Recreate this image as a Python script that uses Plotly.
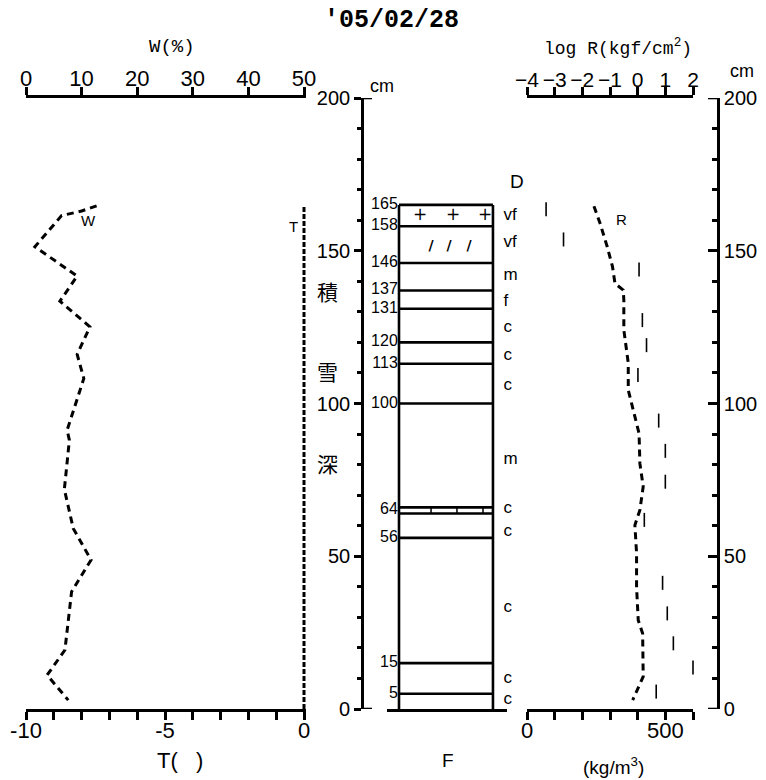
import plotly.graph_objects as go

W_PX, H_PX = 766, 780
def px(x): return x / W_PX
def py(y): return 1 - y / H_PX

NARROW = "Liberation Sans Narrow, Arial Narrow, Liberation Sans, sans-serif"
MONO = "Liberation Mono, DejaVu Sans Mono, monospace"
CJK = "Noto Sans CJK JP, Noto Sans CJK SC, sans-serif"

# ---------------- data ----------------
temp_depth = [0, 165]
temp_val = [0.0, 0.0]

w_depth = [164.7, 163.0, 161.5, 151.3, 141.7, 133.5, 125.1, 116.1, 108.2, 91.3, 88.0,
           71.9, 59.1, 48.8, 38.4, 19.3, 11.1, 2.9]
w_val = [12.7, 10.0, 6.4, 1.6, 9.2, 6.1, 11.5, 9.2, 10.4, 7.4, 7.8,
         6.9, 8.5, 11.7, 8.2, 7.0, 3.8, 7.6]

rho_depth = [164.6, 159.0, 151.3, 144.8, 139.3, 137.1, 133.9, 124.1, 113.2, 104.4, 93.5,
             90.2, 80.4, 72.8, 65.1, 60.2, 51.0, 40.0, 29.1, 24.7, 10.6, 2.9]
rho_val = [242, 264, 290, 309, 318, 348, 350, 350, 366, 366, 396,
           405, 408, 420, 408, 390, 396, 396, 402, 418, 420, 382]

r_depth = [163.6, 153.7, 143.9, 127.3, 119.1, 109.3, 94.4, 84.5, 74.4, 61.9, 41.3, 31.3, 21.5, 13.6, 5.7]
r_val = [-3.31, -2.68, 0.05, 0.17, 0.32, 0.01, 0.76, 1.0, 1.0, 0.24, 0.9, 1.07, 1.29, 2.0, 0.67]

layer_bounds = [165, 158, 146, 137, 131, 120, 113, 100, 66, 64, 56, 15, 5]
bound_labels = ["165", "158", "146", "137", "131", "120", "113", "100", "64", "56", "15", "5"]
bound_label_depth = [165, 158, 146, 137, 131, 120, 113, 100, 65, 56, 15, 5]

grain_depth = [161.4, 152.5, 141.7, 133.2, 124.7, 115.5, 105.7, 81.5, 65.5, 58, 33, 10, 3]
grain_text = ["vf", "vf", "m", "f", "c", "c", "c", "m", "c", "c", "c", "c", "c"]

snow_top = 165
col_left, col_right = 0.10, 0.883   # column edges in column-axis units
plus_x = [0.275, 0.55, 0.817]
plus_depth = 161.5
slash_x = [0.367, 0.517, 0.683]
slash_depth = 151.5
ice_tick_x = [0.367, 0.583, 0.80]

W_ticks = [0, 10, 20, 30, 40, 50]
T_ticks = [-10, -5, 0]
R_ticks = [-4, -3, -2, -1, 0, 1, 2]
rho_ticks = [0, 500]
depth_ticks = [0, 50, 100, 150, 200]

# small range pad so that the T=0 line is not clipped in half
T_PAD = 0.07
T_range = [-10, 0 + T_PAD]
W_range = [0, 50 + 5 * T_PAD]
PX_PER_T = (304 - 26) / 10.0

# ---------------- figure ----------------
fig = go.Figure()
LW = 2.6

fig.add_trace(go.Scatter(x=temp_val, y=temp_depth, mode="lines", xaxis="x", yaxis="y",
                         line=dict(color="black", width=3, dash="5px,2px")))
fig.add_trace(go.Scatter(x=w_val, y=w_depth, mode="lines", xaxis="x3", yaxis="y",
                         line=dict(color="black", width=3, dash="7px,5px")))
fig.add_trace(go.Scatter(x=rho_val, y=rho_depth, mode="lines", xaxis="x4", yaxis="y",
                         line=dict(color="black", width=3, dash="7px,5px")))
fig.add_trace(go.Scatter(x=r_val, y=r_depth, mode="markers", xaxis="x5", yaxis="y", cliponaxis=False,
                         marker=dict(symbol="line-ns", size=10, line=dict(color="black", width=1.6))))

cx, cy = [], []
for b in layer_bounds:
    cx += [col_left, col_right, None]
    cy += [b, b, None]
cx += [col_left, col_left, None, col_right, col_right]
cy += [0, snow_top, None, 0, snow_top]
fig.add_trace(go.Scatter(x=cx, y=cy, mode="lines", xaxis="x2", yaxis="y",
                         line=dict(color="black", width=LW), cliponaxis=False))
ix, iy = [], []
for xv in ice_tick_x:
    ix += [xv, xv, None]
    iy += [64, 66, None]
fig.add_trace(go.Scatter(x=ix, y=iy, mode="lines", xaxis="x2", yaxis="y",
                         line=dict(color="black", width=1.5), cliponaxis=False))
fig.add_trace(go.Scatter(x=[col_left - 0.01] * len(bound_labels), y=bound_label_depth, mode="text",
                         text=bound_labels, textposition="middle left", xaxis="x2", yaxis="y",
                         textfont=dict(family=NARROW, size=16, color="black"), cliponaxis=False))
fig.add_trace(go.Scatter(x=[0.97] * len(grain_text), y=grain_depth, mode="text",
                         text=grain_text, textposition="middle right", xaxis="x2", yaxis="y",
                         textfont=dict(family=NARROW, size=17, color="black"), cliponaxis=False))
fig.add_trace(go.Scatter(x=plus_x, y=[plus_depth] * 3, mode="text", text=["+"] * 3,
                         xaxis="x2", yaxis="y", textfont=dict(family="DejaVu Sans", size=17, color="black"),
                         cliponaxis=False))
fig.add_trace(go.Scatter(x=slash_x, y=[slash_depth] * 3, mode="text", text=["<b>/</b>"] * 3,
                         xaxis="x2", yaxis="y", textfont=dict(family="DejaVu Sans", size=14, color="black"),
                         cliponaxis=False))

tickfont_big = dict(family=NARROW, size=22, color="black")
tickfont_r = dict(family=NARROW, size=21, color="black")
tickfont_mid = dict(family=NARROW, size=20, color="black")

common_x = dict(showgrid=False, zeroline=False, showline=True, linecolor="black", linewidth=LW,
                ticks="outside", tickcolor="black", tickwidth=LW, ticklen=8, automargin=False,
                tickangle=0, ticklabelstandoff=-8)

ydom = [py(709), py(98)]

fig.update_layout(
    width=W_PX, height=H_PX, margin=dict(l=0, r=0, t=0, b=0, autoexpand=False),
    paper_bgcolor="white", plot_bgcolor="white", showlegend=False,
    xaxis=dict(domain=[px(26), px(304 + T_PAD * PX_PER_T)], range=T_range, anchor="y", side="bottom",
               tickvals=T_ticks, ticktext=[str(v) for v in T_ticks], tickfont=tickfont_big,
               minor=dict(dtick=1, ticklen=8, tickwidth=LW, tickcolor="black", ticks="outside"),
               **common_x),
    xaxis3=dict(range=W_range, overlaying="x", anchor="y", side="top",
                tickvals=W_ticks, tickfont=tickfont_big, **common_x),
    xaxis2=dict(domain=[px(387), px(507)], range=[0, 1], anchor="y", side="bottom",
                showgrid=False, zeroline=False, showline=True, linecolor="black", linewidth=LW,
                ticks="", showticklabels=False, automargin=False),
    xaxis4=dict(domain=[px(527), px(693)], range=[0, 600], anchor="y", side="bottom",
                tickvals=rho_ticks, tickfont=tickfont_big,
                minor=dict(dtick=100, ticklen=8, tickwidth=LW, tickcolor="black", ticks="outside"),
                **common_x),
    xaxis5=dict(range=[-4, 2], overlaying="x4", anchor="y", side="top",
                tickvals=R_ticks, tickfont=tickfont_r, **common_x),
    yaxis=dict(domain=ydom, range=[0, 200], anchor="free", position=px(362), side="left",
               showgrid=False, zeroline=False, showline=True, linecolor="black", linewidth=LW,
               ticks="outside", ticklen=7, tickwidth=LW, tickcolor="black", automargin=False,
               tickvals=depth_ticks, tickfont=tickfont_mid,
               minor=dict(dtick=10, ticklen=4, tickwidth=LW, tickcolor="black", ticks="outside")),
    yaxis2=dict(domain=ydom, range=[0, 200], anchor="free", position=px(718), side="right",
                overlaying="y", automargin=False,
                showgrid=False, zeroline=False, showline=True, linecolor="black", linewidth=LW,
                ticks="inside", ticklen=9, tickwidth=LW, tickcolor="black",
                tickvals=depth_ticks, tickfont=tickfont_mid,
                minor=dict(dtick=10, ticklen=5, tickwidth=LW, tickcolor="black", ticks="inside")),
)
fig.add_trace(go.Scatter(x=[None], y=[None], xaxis="x4", yaxis="y2", showlegend=False))

for x0, x1, d in [(362, 372, 200), (362, 372, 0), (708, 718, 200), (708, 718, 0)]:
    fig.add_shape(type="line", xref="paper", yref="y", x0=px(x0), x1=px(x1), y0=d, y1=d,
                  line=dict(color="black", width=LW))

def ann(text, x, y, size, family=NARROW, bold=False, xanchor="center"):
    if bold:
        text = "<b>" + text + "</b>"
    fig.add_annotation(text=text, x=px(x), y=py(y), xref="paper", yref="paper",
                       showarrow=False, xanchor=xanchor, yanchor="middle",
                       font=dict(family=family, size=size, color="black"))

ann("'05/02/28", 391, 20, 25, family=MONO, bold=True)
ann("W(%)", 172, 47, 19, family=MONO)
ann("log R(kgf/cm<sup>2</sup>)", 618, 47, 18, family=MONO)
ann("cm", 382, 86, 18)
ann("cm", 742, 71, 18)
ann("D", 517, 181, 19)
ann("F", 448, 760, 19)
ann("T(&nbsp;&nbsp;&nbsp;)", 180, 760, 22)
ann("(kg/m<sup>3</sup>)", 613, 766, 19)
ann("積", 327, 291, 21, family=CJK)
ann("雪", 327, 371, 21, family=CJK)
ann("深", 327, 463, 21, family=CJK)
ann("W", 88, 220, 15, family=NARROW)
ann("T", 293, 226, 15, family=NARROW)
ann("R", 621, 219, 15, family=NARROW)

fig.write_html("out.html")
